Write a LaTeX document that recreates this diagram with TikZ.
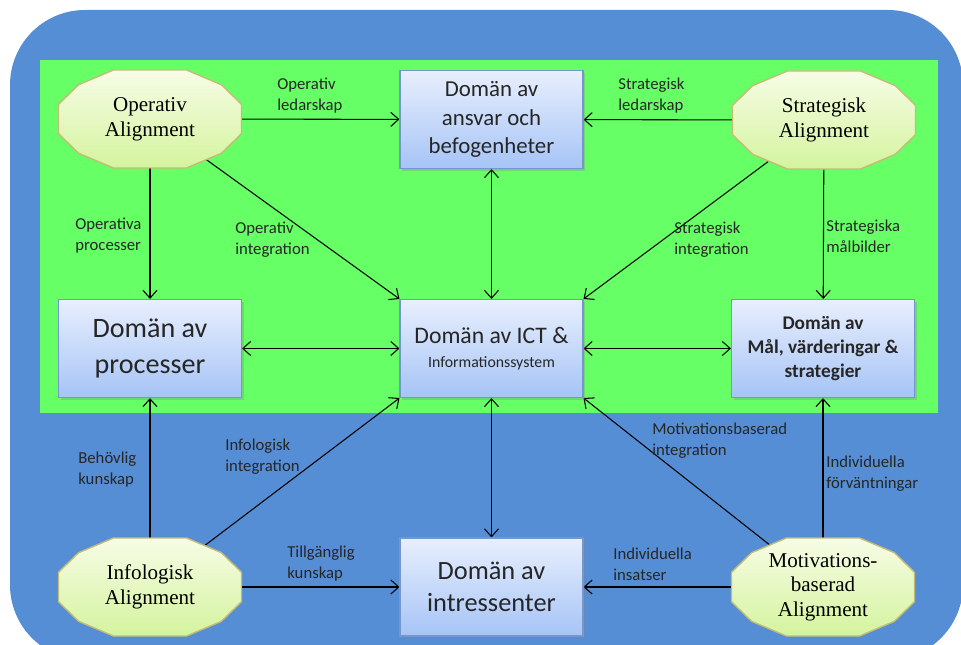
\documentclass[tikz,border=0pt]{standalone}
\usepackage{fontspec}
\setmainfont{Carlito}
\newfontfamily\alfont{Liberation Serif}
\usetikzlibrary{arrows.meta,shapes.geometric,shadows,backgrounds}

\definecolor{outerblue}{RGB}{85,142,213}
\definecolor{panelgreen}{RGB}{102,255,102}
\definecolor{boxtop}{RGB}{232,239,253}
\definecolor{boxbot}{RGB}{166,196,246}
\definecolor{boxedge}{RGB}{118,150,208}
\definecolor{altop}{RGB}{247,252,230}
\definecolor{albot}{RGB}{212,244,158}
\definecolor{aledge}{RGB}{196,188,118}

\tikzset{
  dombox/.style={draw=boxedge, line width=0.6pt, top color=boxtop, bottom color=boxbot,
    minimum width=3.66cm, minimum height=1.96cm, inner sep=0pt, align=center, text=black!85,
    drop shadow={shadow xshift=1.2pt, shadow yshift=-1.2pt, opacity=0.3}},
  alnode/.style={ellipse, minimum width=3.66cm, minimum height=1.96cm, inner sep=0pt,
    align=center, font=\alfont\fontsize{12}{14}\selectfont},
  alshape/.style={draw=aledge, line width=0.8pt, top color=altop, bottom color=albot},
  lbl/.style={anchor=west, align=left, inner sep=0pt, text=black!85,
    font=\fontsize{9.5}{12}\selectfont},
  conn/.style={line width=0.6pt},
}

\begin{document}
\begin{tikzpicture}[x=0.02cm,y=-0.02cm,>={Straight Barb[length=4.5pt,width=8pt]}]
  \useasboundingbox (0,0) rectangle (961,645);
  \begin{scope}[on background layer]
    \clip (0,0) rectangle (961,645);
    \fill[outerblue,rounded corners=1.5cm] (10,10) rectangle (963,660);
    \fill[panelgreen] (40,60) rectangle (938,413);
  \end{scope}

  % domains
  \node[dombox,font=\fontsize{13}{16.2}\selectfont] (ansvar) at (491.5,119.5) {Domän av\\ansvar och\\befogenheter};
  \node[dombox,font=\fontsize{16}{20}\selectfont] (proc) at (150,348.5) {Domän av\\processer};
  \node[dombox,font=\fontsize{13.5}{14}\selectfont] (ict) at (491.5,348.5) {Domän av ICT \&\\{\fontsize{9}{11}\selectfont Informationssystem}};
  \node[dombox,font=\bfseries\fontsize{11}{13.6}\selectfont] (mal) at (823,348.5) {Domän av\\Mål, värderingar \&\\strategier};
  \node[dombox,font=\fontsize{15}{18}\selectfont] (intr) at (491.5,587) {Domän av\\intressenter};

  % alignments
  \node[alnode] (opal) at (150,119) {Operativ\\Alignment};
  \node[alnode] (stral) at (824,120) {Strategisk\\Alignment};
  \node[alnode] (infal) at (150,587) {Infologisk\\Alignment};
  \node[alnode] (motal) at (823,587) {Motivations-\\baserad\\Alignment};

  % labels
  \node[lbl] (l1) at (277,96) {Operativ\\ledarskap};
  \node[lbl] (l2) at (618,96) {Strategisk\\ledarskap};
  \node[lbl] (l3) at (75,236) {Operativa\\processer};
  \node[lbl] (l4) at (235,240) {Operativ\\integration};
  \node[lbl] (l5) at (674,240) {Strategisk\\integration};
  \node[lbl] (l6) at (826,236) {Strategiska\\målbilder};
  \node[lbl] (l7) at (78,470) {Behövlig\\kunskap};
  \node[lbl] (l8) at (225,457) {Infologisk\\integration};
  \node[lbl] (l9) at (652,441) {Motivationsbaserad\\integration};
  \node[lbl] (l10) at (826,474) {Individuella\\förväntningar};
  \node[lbl] (l11) at (287,564) {Tillgänglig\\kunskap};
  \node[lbl] (l12) at (613,564) {Individuella\\insatser};

  \begin{scope}[on background layer]
    \draw[conn,->] (opal) -- (ansvar);
    \draw[conn,->] (stral) -- (ansvar);
    \draw[conn,->] (opal) -- (proc);
    \draw[conn,->] (stral) -- (mal);
    \draw[conn,->] (opal) -- (ict.north west);
    \draw[conn,->] (stral) -- (ict.north east);
    \draw[conn,<->] (ansvar) -- (ict);
    \draw[conn,<->] (proc) -- (ict);
    \draw[conn,<->] (ict) -- (mal);
    \draw[conn,<->] (ict) -- (intr);
    \draw[conn,->] (infal) -- (proc);
    \draw[conn,->] (infal) -- (ict.south west);
    \draw[conn,->] (infal) -- (intr);
    \draw[conn,->] (motal) -- (intr);
    \draw[conn,->] (motal) -- (ict.south east);
    \draw[conn,->] (motal) -- (mal);
    % twelve-sided outlines behind the alignment texts
    \foreach \n in {opal,stral,infal,motal}
      \draw[alshape,shift={(\n.center)}] (36.6,-49) -- (71.4,-34.3) -- (91.5,-14.7) -- (91.5,14.7)
        -- (71.4,34.3) -- (36.6,49) -- (-36.6,49) -- (-71.4,34.3) -- (-91.5,14.7)
        -- (-91.5,-14.7) -- (-71.4,-34.3) -- (-36.6,-49) -- cycle;
  \end{scope}
\end{tikzpicture}
\end{document}
